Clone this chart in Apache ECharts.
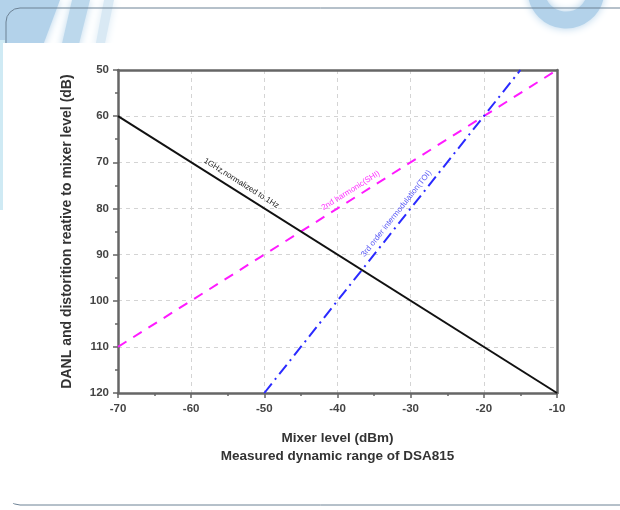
<!DOCTYPE html>
<html>
<head>
<meta charset="utf-8">
<script src="https://cdn.jsdelivr.net/npm/echarts@6/dist/echarts.min.js"></script>
<style>
html,body{margin:0;padding:0;background:#fff;}
#c{width:620px;height:510px;}
</style>
</head>
<body>
<div id="c"></div>
<script>
// ---- data ----
var xTicks = [-70, -60, -50, -40, -30, -20, -10];
var yTicks = [50, 60, 70, 80, 90, 100, 110, 120];
var danlLine = [[-70, 60], [-10, 120]];          // 1GHz, normalized to 1Hz
var shiLine = [[-70, 110], [-10, 50]];           // 2nd harmonic (SHI)
var toiLine = [[-50, 120], [-15, 50]];           // 3rd order intermodulation (TOI)
var danlName = '1GHz,normalized to 1Hz';
var shiName = '2nd harmonic(SHI)';
var toiName = '3rd order intermodulation(TOI)';

var font = 'Liberation Sans, Arial, sans-serif';
function along(line, t) {
  return [line[0][0] + (line[1][0] - line[0][0]) * t, line[0][1] + (line[1][1] - line[0][1]) * t];
}
function labelSeg(line, t1, t2, text, color, dist) {
  return {
    silent: true, symbol: ['none', 'none'],
    lineStyle: { color: 'rgba(0,0,0,0)', width: 0 },
    emphasis: { disabled: true },
    label: { show: true, position: 'insideMiddleTop', formatter: text, color: color,
      fontSize: 8, fontFamily: font, distance: dist },
    data: [[{ coord: along(line, t1) }, { coord: along(line, t2) }]]
  };
}

var chart = echarts.init(document.getElementById('c'));
var tickLabel = { fontFamily: font, fontWeight: 'bold', fontSize: 11.5, color: '#444' };
var axisBase = {
  axisLine: { lineStyle: { color: '#666', width: 2.5 } },
  axisTick: { show: true, length: 5, lineStyle: { color: '#666', width: 1.5 } },
  minorTick: { show: true, splitNumber: 2, length: 3, lineStyle: { color: '#666', width: 1.5 } },
  splitLine: { show: true, lineStyle: { color: '#d4d4d4', type: [4, 4] } }
};
chart.setOption({
  animation: false,
  backgroundColor: '#fff',
  graphic: [
    // decorative background
    { type: 'polygon', z: -10, shape: { points: [[0,0],[60,0],[42,48],[0,48]] }, style: { fill: '#b3d2ea', shadowBlur: 8, shadowColor: '#b3d2ea' } },
    { type: 'polygon', z: -10, shape: { points: [[72,0],[90,0],[78,48],[61,48]] }, style: { fill: '#bcd8ec', shadowBlur: 8, shadowColor: '#bcd8ec' } },
    { type: 'polygon', z: -10, shape: { points: [[104,0],[114,0],[104,48],[95,48]] }, style: { fill: '#d9e9f4', shadowBlur: 8, shadowColor: '#d9e9f4' } },
    { type: 'rect', z: -10, shape: { x: 0, y: 40, width: 5, height: 170 }, style: { fill: '#cfeaf4' } },
    { type: 'arc', z: -10, shape: { cx: 566, cy: -10, r: 30, startAngle: 0.1, endAngle: Math.PI - 0.1 }, style: { stroke: '#b3d2ea', lineWidth: 17, fill: null, shadowBlur: 8, shadowColor: '#b3d2ea' } },
    { type: 'rect', z: -9, shape: { x: 6, y: 8, width: 640, height: 497, r: 14 }, style: { fill: 'none', stroke: '#6d8295', lineWidth: 1 } },
    { type: 'rect', z: -8, shape: { x: 3, y: 43, width: 598, height: 460 }, style: { fill: '#fff' } }
  ],
  grid: { left: 118, right: 63, top: 70, bottom: 117 },
  xAxis: [
    Object.assign({}, axisBase, {
      type: 'value', min: xTicks[0], max: xTicks[xTicks.length - 1], interval: 10,
      name: 'Mixer level (dBm)\nMeasured dynamic range of DSA815',
      nameLocation: 'middle', nameGap: 36,
      nameTextStyle: { fontFamily: font, fontWeight: 'bold', fontSize: 13.5, color: '#333', lineHeight: 18 },
      axisLabel: Object.assign({ margin: 10 }, tickLabel)
    }),
    { type: 'value', position: 'top', min: xTicks[0], max: xTicks[xTicks.length - 1], interval: 10,
      axisLine: { lineStyle: { color: '#666', width: 2.5 } }, axisTick: { show: false },
      axisLabel: { show: false }, splitLine: { show: false } }
  ],
  yAxis: [
    Object.assign({}, axisBase, {
      type: 'value', inverse: true, min: yTicks[0], max: yTicks[yTicks.length - 1], interval: 10,
      name: 'DANL and distorition reative to mixer level (dB)',
      nameLocation: 'middle', nameGap: 44,
      nameTextStyle: { fontFamily: font, fontWeight: 'bold', fontSize: 14, color: '#333' },
      axisLabel: Object.assign({ margin: 9 }, tickLabel)
    }),
    { type: 'value', position: 'right', inverse: true, min: yTicks[0], max: yTicks[yTicks.length - 1], interval: 10,
      axisLine: { lineStyle: { color: '#666', width: 2.5 } }, axisTick: { show: false },
      axisLabel: { show: false }, splitLine: { show: false } }
  ],
  series: [
    { type: 'line', name: danlName, data: danlLine, symbol: 'none', z: 3,
      lineStyle: { color: '#111', width: 2 },
      markLine: labelSeg(danlLine, 0.15, 0.39, danlName, '#222', 5) },
    { type: 'line', name: shiName, data: shiLine, symbol: 'none', z: 2,
      lineStyle: { color: '#ff1aff', width: 2, type: [10, 8] },
      markLine: labelSeg(shiLine, 0.47, 0.61, shiName, '#ff33ff', 4) },
    { type: 'line', name: toiName, data: toiLine, symbol: 'none', z: 2,
      lineStyle: { color: '#2a2aff', width: 2, type: [12, 5, 2, 5] },
      markLine: labelSeg(toiLine, 0.38, 0.70, toiName, '#5a5af5', 4) }
  ]
});
</script>
</body>
</html>
